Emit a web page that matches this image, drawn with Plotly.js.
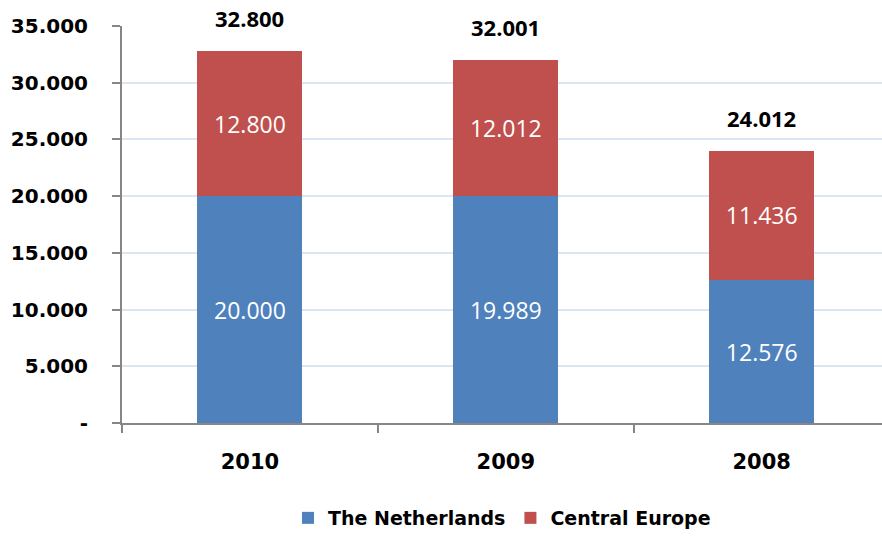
<!DOCTYPE html>
<html>
<head>
<meta charset="utf-8">
<script src="https://cdn.plot.ly/plotly-3.0.1.min.js"></script>
<style>html,body{margin:0;padding:0;background:#fff;}#chart{width:882px;height:537px;}</style>
</head>
<body>
<div id="chart"></div>
<script>
var categories = ['2010', '2009', '2008'];
var netherlands = [20000, 19989, 12576];
var centralEurope = [12800, 12012, 11436];
var totals = [32800, 32001, 24012];
var netherlandsLabels = ['20.000', '19.989', '12.576'];
var centralEuropeLabels = ['12.800', '12.012', '11.436'];
var totalLabels = ['32.800', '32.001', '24.012'];
var yTickVals = [0, 5000, 10000, 15000, 20000, 25000, 30000, 35000];
var yTickText = ['-', '5.000', '10.000', '15.000', '20.000', '25.000', '30.000', '35.000'];

var innerFont = {family: 'Open Sans, Liberation Sans, sans-serif', size: 23, color: '#ffffff'};

var traces = [
  {
    type: 'bar', name: 'The Netherlands', x: categories, y: netherlands,
    text: netherlandsLabels, textposition: 'inside', insidetextanchor: 'middle',
    textangle: 0, textfont: innerFont, hoverinfo: 'none',
    marker: {color: '#4f81bd'}, width: 0.41
  },
  {
    type: 'bar', name: 'Central Europe', x: categories, y: centralEurope,
    text: centralEuropeLabels, textposition: 'inside', insidetextanchor: 'middle',
    textangle: 0, textfont: innerFont, hoverinfo: 'none',
    marker: {color: '#c0504d'}, width: 0.41
  }
];

var annotations = [];
for (var i = 0; i < categories.length; i++) {
  annotations.push({
    xref: 'x', yref: 'y',
    x: i, y: totals[i], text: '<b>' + totalLabels[i] + '</b>', showarrow: false,
    xanchor: 'center', yanchor: 'bottom', yshift: 17, borderpad: 0,
    font: {family: 'Open Sans, Liberation Sans, sans-serif', size: 22, color: '#000000'}
  });
}

var layout = {
  width: 882, height: 537,
  margin: {l: 122, r: 0, t: 26, b: 113},
  barmode: 'stack',
  showlegend: true,
  paper_bgcolor: '#ffffff', plot_bgcolor: '#ffffff',
  separators: ',.',
  xaxis: {
    type: 'category', range: [-0.5, 2.47],
    showgrid: false, zeroline: false,
    showline: true, linecolor: '#868686', linewidth: 2,
    ticks: 'outside', tickson: 'boundaries', ticklen: 8, tickwidth: 2, tickcolor: '#868686',
    tickfont: {family: 'DejaVu Sans, sans-serif', size: 21, color: '#000000', weight: 'bold'},
    ticklabelstandoff: 19
  },
  yaxis: {
    range: [0, 35000], tickvals: yTickVals, ticktext: yTickText,
    showgrid: true, gridcolor: '#dce6f2', gridwidth: 2,
    zeroline: false, showline: true, linecolor: '#868686', linewidth: 2,
    ticks: 'outside', ticklen: 8, tickwidth: 2, tickcolor: '#868686',
    tickfont: {family: 'DejaVu Sans, sans-serif', size: 20, color: '#000000', weight: 'bold'},
    ticklabelstandoff: 20
  },
  legend: {
    orientation: 'h', x: 0.5, xanchor: 'center', xref: 'paper',
    y: -0.19, yanchor: 'top', traceorder: 'normal',
    font: {family: 'DejaVu Sans, sans-serif', size: 19, color: '#000000', weight: 'bold'},
    itemwidth: 30
  },
  annotations: annotations
};

Plotly.newPlot('chart', traces, layout, {displayModeBar: false, staticPlot: true});
</script>
</body>
</html>
